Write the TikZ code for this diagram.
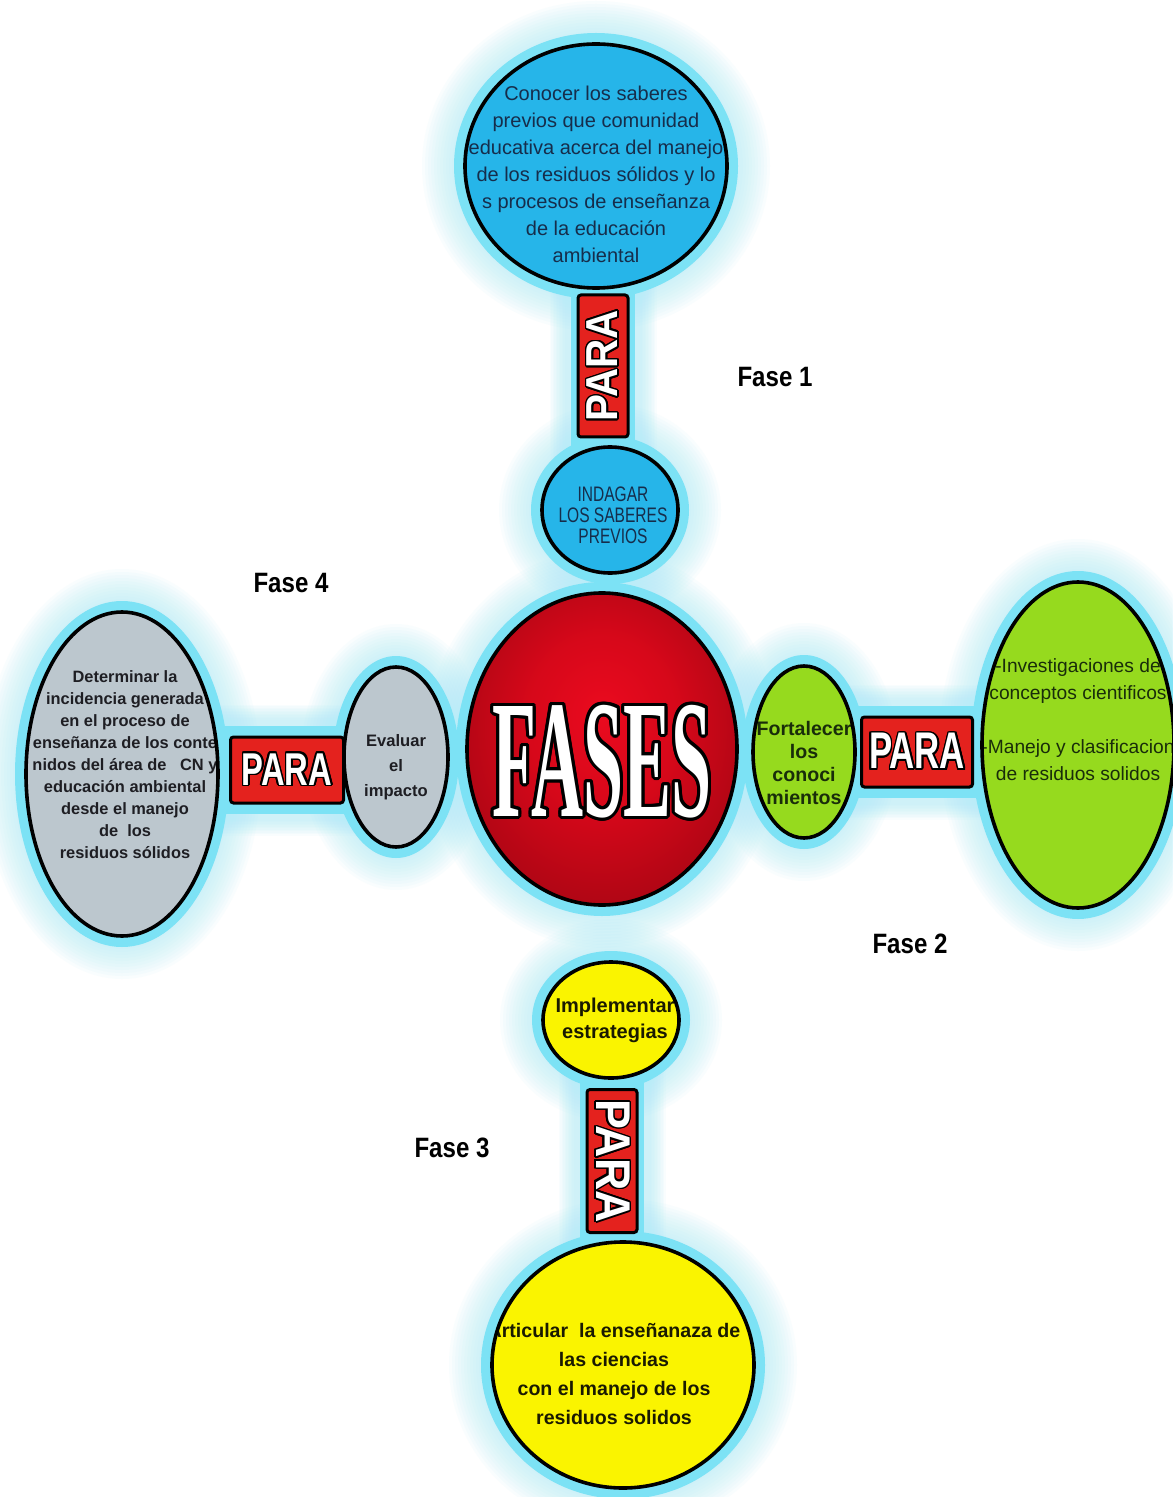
\documentclass[tikz,border=0pt]{standalone}
\usepackage{fontspec}
\setmainfont{Liberation Sans}
\newfontfamily\narrowfont[FakeStretch=0.74]{Liberation Sans}
\newfontfamily\fasefont[FakeStretch=0.86]{Liberation Sans}
\newfontfamily\titlefont{Liberation Serif}
\usepackage{graphicx}
\usepackage{contour}
\contourlength{0.8pt}
\usetikzlibrary{shapes.geometric}

\definecolor{cblue}{RGB}{38,181,233}
\definecolor{cgray}{RGB}{188,199,206}
\definecolor{cgreen}{RGB}{150,218,30}
\definecolor{cyellow}{RGB}{250,244,0}
\definecolor{ringcol}{RGB}{124,226,245}
\definecolor{halocol}{RGB}{175,236,248}
\definecolor{parared}{RGB}{228,34,30}
\definecolor{tblue}{RGB}{22,45,75}
\definecolor{tgray}{RGB}{30,30,35}
\definecolor{tgreen}{RGB}{25,45,10}
\definecolor{tyellow}{RGB}{26,26,0}

\pgfdeclareradialshading{redball}{\pgfpoint{0bp}{6bp}}{rgb(0bp)=(0.92,0.04,0.12);rgb(14bp)=(0.84,0.03,0.10);rgb(34bp)=(0.62,0.02,0.07);rgb(50bp)=(0.46,0.01,0.05)}

\pgfdeclarelayer{bg}\pgfdeclarelayer{halo}\pgfdeclarelayer{ring}
\pgfsetlayers{bg,halo,ring,main}

\tikzset{
  txt/.style={align=center, inner sep=0pt},
  shapeline/.style={ellipse, draw=black, line width=1.8pt, inner sep=0pt},
  parabox/.style={draw=black, line width=1.5pt, fill=parared, rounded corners=1.5pt, inner sep=0pt},
  fase/.style={font=\fasefont\bfseries\fontsize{14}{14}\selectfont, inner sep=0pt},
}

% name, x, y, rx, ry, fill options, text options, text
\newcommand\blob[8]{%
  \begin{pgfonlayer}{halo}
    \foreach \g in {13,16,...,43}{\fill[halocol,opacity=.07] (#2,#3) ellipse [x radius=#4+\g, y radius=#5+\g];}
  \end{pgfonlayer}
  \begin{pgfonlayer}{ring}
    \fill[ringcol] (#2,#3) ellipse [x radius=#4+11, y radius=#5+11];
  \end{pgfonlayer}
  \path[#6] (#2,#3) ellipse [x radius=#4, y radius=#5];
  \begin{scope}
    \clip (#2,#3) ellipse [x radius=#4, y radius=#5];
    \node[txt,#7] (#1-t) at (#2,#3) {#8};
  \end{scope}
  \node[shapeline, minimum width=#4pt, minimum height=#5pt] (#1) at (#2,#3) {};
}

% from, to, width
\newcommand\band[3]{%
  \begin{pgfonlayer}{halo}
    \foreach \g in {6.5,8,...,21.5}{\draw[halocol,opacity=.07,line width=#3+\g*1pt] (#1) -- (#2);}
  \end{pgfonlayer}
  \begin{pgfonlayer}{ring}
    \draw[ringcol,line width=#3] (#1) -- (#2);
  \end{pgfonlayer}
}

\newcommand\paratxt[2]{\textcolor{white}{\contour{black}{\scalebox{#1}[#2]{\fontsize{20}{20}\bfseries\selectfont PARA}}}}

\begin{document}
\begin{tikzpicture}[x=0.5pt,y=-0.5pt]
\begin{pgfonlayer}{bg}
  \fill[white] (0,0) rectangle (1172,1497);
\end{pgfonlayer}
\useasboundingbox (0,0) rectangle (1172,1497);

% ---- shapes ----
\blob{top}{596}{166}{131}{122}{fill=cblue}{font=\fontsize{10}{13.5}\selectfont, text=tblue, yshift=-4pt}
  {Conocer los saberes\\previos que comunidad\\educativa acerca del manejo\\de los residuos sólidos y lo\\s procesos de enseñanza\\de la educación\\ambiental}

\blob{indagar}{610}{510}{68}{63}{fill=cblue}{font=\narrowfont\fontsize{10.5}{10.5}\selectfont, text=tblue, yshift=-2.5pt, xshift=1.5pt}
  {INDAGAR\\LOS SABERES\\PREVIOS}

\blob{center}{602}{749}{135}{156}{shading=redball}{yshift=-7pt}
  {\textcolor{white}{\contourlength{1.6pt}\contour{black}{\scalebox{0.9}[2.1]{\titlefont\bfseries\fontsize{40}{40}\selectfont FASES}}}}

\blob{left}{122}{774}{96}{162}{fill=cgray}{font=\bfseries\fontsize{8.2}{11}\selectfont, text=tgray, yshift=4.5pt, xshift=1.5pt}
  {Determinar la\\incidencia generada\\en el proceso de\\enseñanza de los conte\\nidos del área de\ \ \ CN y\\educación ambiental\\desde el manejo\\de\ \ los\\residuos sólidos}

\blob{evaluar}{396}{757}{52}{90}{fill=cgray}{font=\bfseries\fontsize{8.3}{12.5}\selectfont, text=tgray, yshift=-5pt}
  {Evaluar\\el\\impacto}

\blob{fortalecer}{804}{752}{51}{86}{fill=cgreen}{font=\bfseries\fontsize{9.8}{11.5}\selectfont, text=tgreen, yshift=-5.5pt}
  {Fortalecer\\los\\conoci\\mientos}

\blob{right}{1078}{745}{96}{163}{fill=cgreen}{font=\fontsize{9.6}{13.5}\selectfont, text=tgreen, yshift=12.5pt}
  {-Investigaciones de\\conceptos cientificos\\[13.5pt]-Manejo y clasificacion\\de residuos solidos}

\blob{implementar}{611}{1020}{68}{58}{fill=cyellow}{font=\bfseries\fontsize{10}{13}\selectfont, text=tyellow, xshift=2pt}
  {Implementar\\estrategias}

\blob{articular}{623}{1365}{131}{123}{fill=cyellow}{font=\bfseries\fontsize{9.8}{14.5}\selectfont, text=tyellow, yshift=-4.5pt, xshift=-4.5pt}
  {Articular\ \ la enseñanaza de\\las ciencias\\con el manejo de los\\residuos solidos}

% ---- PARA boxes ----
\node[parabox, minimum width=25pt, minimum height=71pt] (pt) at (603,366) {\rotatebox{90}{\paratxt{1.01}{1.12}}};
\node[parabox, minimum width=56.5pt, minimum height=33pt] (pl) at (287,770) {\paratxt{0.82}{1.15}};
\node[parabox, minimum width=55.5pt, minimum height=35pt] (pr) at (917,752) {\paratxt{0.87}{1.29}};
\node[parabox, minimum width=25pt, minimum height=71.5pt] (pb) at (612,1161) {\rotatebox{-90}{\paratxt{1.12}{1.22}}};

% ---- connecting bands ----
\band{pt |- top}{pt |- indagar}{32pt}
\band{left |- pl}{evaluar |- pl}{44pt}
\band{fortalecer |- pr}{right |- pr}{46pt}
\band{pb |- implementar}{pb |- articular}{32pt}

% ---- phase labels ----
\node[fase] (f1) at (775,377) {Fase 1};
\node[fase] (f2) at (910,944) {Fase 2};
\node[fase] (f3) at (452,1148) {Fase 3};
\node[fase] (f4) at (291,583) {Fase 4};
\end{tikzpicture}
\end{document}
